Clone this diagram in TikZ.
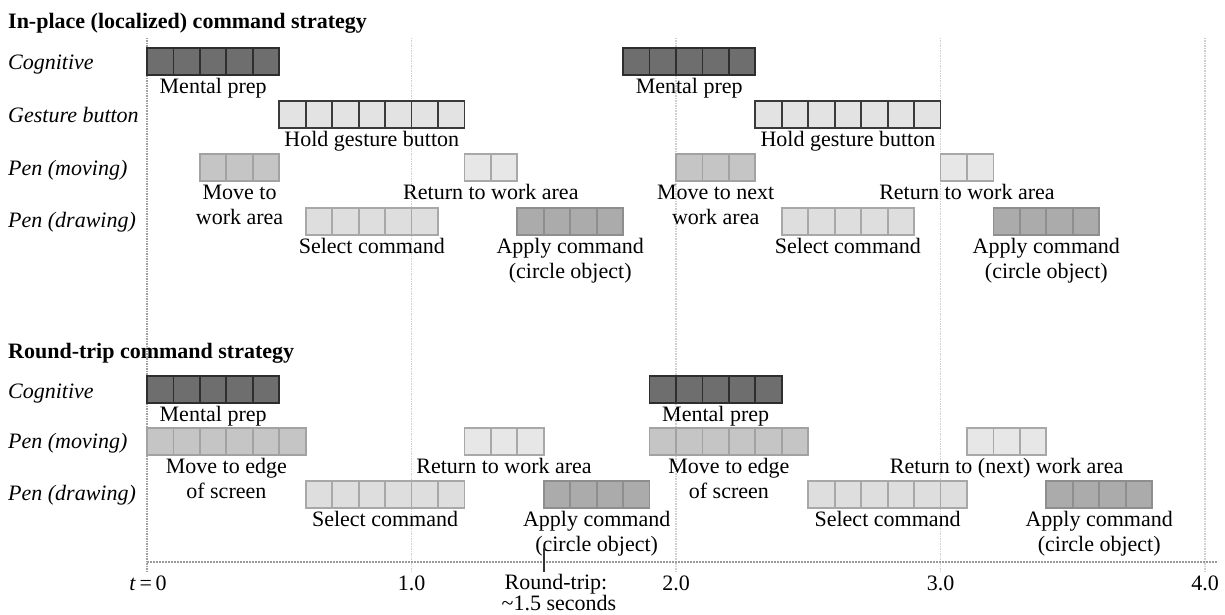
\documentclass[tikz,border=0pt]{standalone}
\usepackage{fontspec}
\setmainfont{Liberation Serif}
\usetikzlibrary{calc}

\definecolor{cogfill}{HTML}{6E6E6E}
\definecolor{cogline}{HTML}{2E2E2E}
\definecolor{gestfill}{HTML}{E3E3E3}
\definecolor{gestline}{HTML}{3A3A3A}
\definecolor{movefill}{HTML}{C5C5C5}
\definecolor{moveline}{HTML}{A2A2A2}
\definecolor{retfill}{HTML}{E7E7E7}
\definecolor{retline}{HTML}{A8A8A8}
\definecolor{selfill}{HTML}{DEDEDE}
\definecolor{selline}{HTML}{A8A8A8}
\definecolor{appfill}{HTML}{ABABAB}
\definecolor{appline}{HTML}{8E8E8E}
\definecolor{gridc}{HTML}{CFCFCF}
\definecolor{zeroc}{HTML}{A0A0A0}
\definecolor{axisc}{HTML}{9A9A9A}

\newcommand\figfont{\fontsize{22}{25}\selectfont}
\newcommand\twoline[2]{\begin{tabular}[t]{@{}c@{}}#1\\#2\end{tabular}}

% time bar: name, start (s), number of 0.1 s cells, top edge, fill colour, line colour
\newcommand\tbar[6]{%
  \node[draw=#6, fill=#5, line width=1.8pt, inner sep=0pt, outer sep=0pt,
        anchor=north west, minimum width={26.45*#3}, minimum height=27]
        (#1) at ({147+264.5*#2},#4) {};
  \foreach \k in {2,...,#3}
    \draw[#6, line width=1.8pt]
      ($(#1.north west)+({26.45*(\k-1)},0)$) -- ($(#1.south west)+({26.45*(\k-1)},0)$);
}
% caption under a bar: name, bar, text
\newcommand\tlabel[3]{\node[barlbl] (#1) at ($(#2.south)+(0,18.5)$) {#3};}

\begin{document}
\begin{tikzpicture}[x=1pt, y=-1pt,
  barlbl/.style={anchor=base, inner sep=0pt, font=\figfont},
  rowlbl/.style={anchor=base west, inner sep=0pt, font=\figfont\itshape},
  ttl/.style={anchor=base west, inner sep=0pt, font=\figfont\bfseries},
  ticklbl/.style={anchor=base, inner sep=0pt, font=\figfont},
  gridline/.style={gridc, line width=1.6pt, dash pattern=on 1.5pt off 1pt},
  zeroline/.style={zeroc, line width=1.6pt, dash pattern=on 1.5pt off 1pt},
  axisline/.style={axisc, line width=1.6pt, dash pattern=on 2pt off 1pt},
  marker/.style={black!80, line width=1.6pt}]

\useasboundingbox (0,0) rectangle (1225,615);

% time grid, t = 0 ... 4 s
\foreach \i in {0,...,4} {
  \coordinate (gt\i) at ({147+264.5*\i},38);
  \coordinate (gb\i) at ({147+264.5*\i},572);
}
\foreach \i in {1,...,4} \draw[gridline] (gt\i) -- (gb\i);
\draw[zeroline] (gt0) -- (gb0);

% time axis
\coordinate (ax0) at (147,562);
\coordinate (ax1) at (1218,562);
\draw[axisline] (ax0) -- (ax1);

% ---------- in-place strategy ----------
\node[ttl] (h1) at (8,29) {In-place (localized) command strategy};
\node[rowlbl] (r1) at (8,70)  {Cognitive};
\node[rowlbl] (r2) at (8,123) {Gesture button};
\node[rowlbl] (r3) at (8,175) {Pen (moving)};
\node[rowlbl] (r4) at (8,227) {Pen (drawing)};

\tbar{c1}{0}{5}{48}{cogfill}{cogline}
\tbar{c2}{1.8}{5}{48}{cogfill}{cogline}
\tbar{g1}{0.5}{7}{101}{gestfill}{gestline}
\tbar{g2}{2.3}{7}{101}{gestfill}{gestline}
\tbar{m1}{0.2}{3}{154}{movefill}{moveline}
\tbar{m2}{1.2}{2}{154}{retfill}{retline}
\tbar{m3}{2.0}{3}{154}{movefill}{moveline}
\tbar{m4}{3.0}{2}{154}{retfill}{retline}
\tbar{d1}{0.6}{5}{208}{selfill}{selline}
\tbar{d2}{1.4}{4}{208}{appfill}{appline}
\tbar{d3}{2.4}{5}{208}{selfill}{selline}
\tbar{d4}{3.2}{4}{208}{appfill}{appline}

\tlabel{lc1}{c1}{Mental prep}
\tlabel{lc2}{c2}{Mental prep}
\tlabel{lg1}{g1}{Hold gesture button}
\tlabel{lg2}{g2}{Hold gesture button}
\tlabel{lm1}{m1}{\twoline{Move to}{work area}}
\tlabel{lm2}{m2}{Return to work area}
\tlabel{lm3}{m3}{\twoline{Move to next}{work area}}
\tlabel{lm4}{m4}{Return to work area}
\tlabel{ld1}{d1}{Select command}
\tlabel{ld2}{d2}{\twoline{Apply command}{(circle object)}}
\tlabel{ld3}{d3}{Select command}
\tlabel{ld4}{d4}{\twoline{Apply command}{(circle object)}}

% ---------- round-trip strategy ----------
\node[ttl] (h2) at (8,358) {Round-trip command strategy};
\node[rowlbl] (s1) at (8,398) {Cognitive};
\node[rowlbl] (s2) at (8,448) {Pen (moving)};
\node[rowlbl] (s3) at (8,500) {Pen (drawing)};

\tbar{C1}{0}{5}{376}{cogfill}{cogline}
\tbar{C2}{1.9}{5}{376}{cogfill}{cogline}
\tbar{M1}{0}{6}{428}{movefill}{moveline}
\tbar{M2}{1.2}{3}{428}{retfill}{retline}
\tbar{M3}{1.9}{6}{428}{movefill}{moveline}
\tbar{M4}{3.1}{3}{428}{retfill}{retline}
\tbar{D1}{0.6}{6}{481}{selfill}{selline}
\tbar{D2}{1.5}{4}{481}{appfill}{appline}
\tbar{D3}{2.5}{6}{481}{selfill}{selline}
\tbar{D4}{3.4}{4}{481}{appfill}{appline}

\tlabel{LC1}{C1}{Mental prep}
\tlabel{LC2}{C2}{Mental prep}
\tlabel{LM1}{M1}{\twoline{Move to edge}{of screen}}
\tlabel{LM2}{M2}{Return to work area}
\tlabel{LM3}{M3}{\twoline{Move to edge}{of screen}}
\tlabel{LM4}{M4}{Return to (next) work area}
\tlabel{LD1}{D1}{Select command}
\tlabel{LD2}{D2}{\twoline{Apply command}{(circle object)}}
\tlabel{LD3}{D3}{Select command}
\tlabel{LD4}{D4}{\twoline{Apply command}{(circle object)}}

% round-trip marker at t = 1.5 s
\coordinate (rt0) at ({147+264.5*1.5},548);
\coordinate (rt1) at ({147+264.5*1.5},572);
\draw[marker] (rt0) -- (rt1);

% axis labels
\node[ticklbl] (t0) at ($(gb0)+(1,18)$) {\textit{t}\,=\,0};
\node[ticklbl] (t1) at ($(gb1)+(0,18)$) {1.0};
\node[ticklbl] (t2) at ($(gb2)+(0,18)$) {2.0};
\node[ticklbl] (t3) at ($(gb3)+(0,18)$) {3.0};
\node[ticklbl] (t4) at ($(gb4)+(0,18)$) {4.0};
\node[ticklbl] (rtl1) at (556,589) {Round-trip:};
\node[ticklbl] (rtl2) at (559,610) {\textasciitilde1.5 seconds};

\end{tikzpicture}
\end{document}
